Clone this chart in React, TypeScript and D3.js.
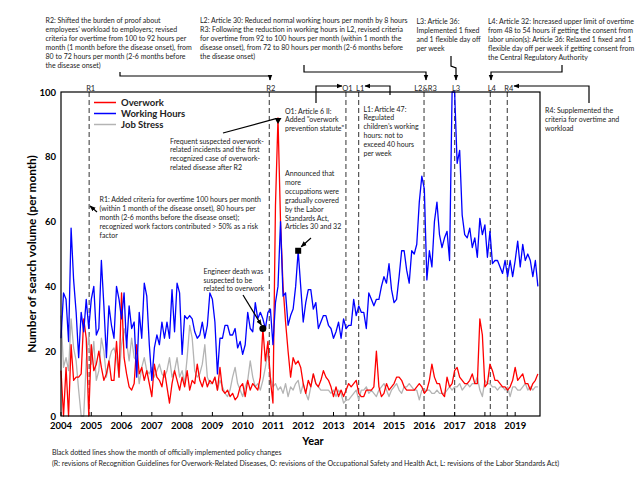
import React from "react";
import * as d3 from "d3";

// monthly search volume, Jan 2004 - Oct 2019
const START_YEAR = 2004;

const workingHours = [
  24, 38, 36, 23, 58, 42, 32, 18, 32, 26, 36, 27, // 2004
  36, 40, 25, 27, 48, 34, 18, 34, 28, 24, 40, 36, // 2005
  30, 38, 21, 34, 27, 29, 12, 32, 24, 41, 37, 22, // 2006
  11, 21, 25, 22, 29, 24, 29, 24, 39, 26, 41, 38, // 2007
  19, 31, 30, 31, 30, 26, 24, 25, 29, 24, 28, 38, // 2008
  36, 29, 13, 24, 24, 28, 28, 25, 25, 27, 21, 23, // 2009
  19, 22, 32, 27, 26, 35, 30, 32, 30, 27, 32, 33, // 2010
  22, 35, 40, 60, 37, 38, 28, 31, 33, 40, 51, 40, // 2011
  29, 35, 39, 39, 33, 35, 27, 29, 31, 31, 28, 27, // 2012
  24, 26, 29, 24, 30, 27, 28, 28, 36, 31, 34, 32, // 2013
  32, 27, 38, 36, 34, 36, 36, 40, 43, 41, 47, 39, // 2014
  35, 36, 43, 51, 51, 45, 41, 51, 50, 53, 66, 74, // 2015
  70, 42, 51, 46, 60, 66, 56, 52, 55, 57, 48, 100, // 2016
  100, 78, 82, 62, 56, 55, 58, 52, 55, 49, 61, 56, // 2017
  59, 49, 57, 47, 48, 48, 46, 44, 48, 43, 48, 43, // 2018
  48, 54, 46, 53, 48, 50, 48, 43, 48, 40, // 2019
];

const overwork = [
  14, 0, 15, 0, 22, 11, 12, 12, 13, 30, 24, 0,
  22, 14, 16, 20, 15, 11, 13, 17, 11, 11, 23, 12,
  38, 18, 13, 9, 8, 10, 22, 13, 15, 11, 14, 10,
  6, 16, 12, 11, 9, 14, 9, 4, 10, 14, 11, 8,
  12, 9, 14, 8, 11, 10, 16, 11, 9, 12, 9, 11,
  10, 12, 8, 15, 8, 7, 8, 6, 7, 5, 6, 9,
  10, 6, 11, 8, 10, 9, 8, 12, 27, 17, 23, 11,
  4, 65, 92, 60, 40, 29, 20, 12, 18, 16, 17, 15,
  10, 7, 11, 9, 13, 10, 9, 11, 14, 12, 11, 9,
  6, 9, 6, 8, 6, 8, 10, 9, 10, 11, 7, 6,
  6, 8, 8, 8, 9, 20, 9, 6, 7, 10, 8, 9,
  10, 12, 12, 11, 9, 8, 8, 8, 8, 9, 10, 9,
  7, 8, 11, 16, 12, 10, 10, 7, 6, 12, 9, 10,
  14, 15, 12, 11, 10, 10, 11, 13, 10, 10, 30, 25,
  9, 10, 16, 14, 11, 11, 10, 9, 9, 8, 9, 11,
  15, 11, 12, 13, 10, 10, 8, 10, 11, 13,
];

const jobStress = [
  31, 15, 18, 14, 30, 21, 17, 8, 0, 0, 17, 25,
  16, 23, 11, 14, 24, 20, 12, 17, 20, 21, 18, 12,
  22, 27, 23, 17, 24, 18, 17, 10, 15, 18, 14, 13,
  15, 12, 14, 16, 13, 12, 14, 18, 12, 14, 18, 12,
  14, 10, 18, 28, 24, 14, 12, 13, 16, 22, 12, 10,
  10, 12, 8, 11, 9, 7, 6, 8, 12, 15, 10, 8,
  6, 9, 11, 17, 12, 9, 10, 8, 11, 15, 20, 12,
  9, 10, 8, 9, 7, 10, 6, 9, 8, 10, 11, 7,
  10, 7, 5, 9, 13, 10, 9, 8, 8, 8, 8, 7,
  8, 6, 8, 7, 4, 5, 5, 6, 7, 8, 5, 8,
  8, 9, 7, 8, 7, 6, 8, 9, 10, 8, 6, 8,
  9, 10, 8, 7, 9, 9, 10, 9, 8, 8, 5, 8,
  8, 8, 8, 7, 7, 8, 7, 7, 7, 8, 9, 8,
  9, 9, 10, 8, 9, 10, 9, 10, 10, 12, 8, 6,
  11, 10, 10, 9, 9, 8, 9, 9, 8, 9, 6, 9,
  9, 8, 8, 9, 10, 8, 9, 8, 9, 9,
];

const yearTicks = [2004, 2005, 2006, 2007, 2008, 2009, 2010, 2011, 2012, 2013, 2014, 2015, 2016, 2017, 2018, 2019];
const valueTicks = [0, 20, 40, 60, 80, 100];

const policyNames = ["R1", "R2", "O1", "L1", "L2&R3", "L3", "L4", "R4"];
const policyDates = [2004.93, 2010.88, 2013.41, 2013.83, 2015.99, 2017.0, 2018.18, 2018.74];

const seriesNames = ["Overwork", "Working Hours", "Job Stress"];
const seriesColors = ["#ff0000", "#0000ff", "#b4b4b4"];

const FONT = "Lato, 'Open Sans', sans-serif";

const Lines = ({ x, y, lines, size = 7, dy = 8.9 }) => (
  <text x={x} y={y} fontSize={size} fill="#1a1a1a">
    {lines.map((l, i) => (
      <tspan key={i} x={x} y={y + i * dy}>
        {l}
      </tspan>
    ))}
  </text>
);

const App = () => {
  const x = d3.scaleLinear().domain([2004, 2019.82]).range([61, 540]);
  const y = d3.scaleLinear().domain([0, 100]).range([416, 92]);
  const mx = (i) => x(START_YEAR + i / 12);

  const line = d3
    .line<number>()
    .x((_, i) => mx(i))
    .y((d) => y(d));

  const series = [overwork, workingHours, jobStress];

  // markers pinned to data points
  const peakIdx = overwork.indexOf(d3.max(overwork));
  const squareIdx = 94;
  const circleIdx = 80;
  const tx = mx(peakIdx);
  const ty = y(overwork[peakIdx]);

  return (
    <div style={{ position: "absolute", left: 0, top: 0, background: "#fff" }}>
      <svg width={640} height={480} style={{ display: "block", fontFamily: FONT }}>
        <defs>
          <marker id="ah" viewBox="0 0 10 10" refX="9" refY="5" markerWidth="5" markerHeight="5" orient="auto-start-reverse">
            <path d="M0,1 L10,5 L0,9 z" fill="#000" />
          </marker>
        </defs>
        <rect width={640} height={480} fill="#fff" />

        {/* policy lines */}
        {policyDates.map((d, i) => (
          <g key={policyNames[i]}>
            <line x1={x(d)} x2={x(d)} y1={y(100)} y2={y(0)} stroke="#555" strokeWidth={1.2} strokeDasharray="5,3" />
            <text x={x(d) + 1.5} y={90.5} fontSize={7.5} textAnchor="middle" fill="#222">
              {policyNames[i]}
            </text>
          </g>
        ))}

        {/* series: gray under, then red, then blue */}
        {[2, 0, 1].map((k) => (
          <path key={k} d={line(series[k]) || ""} fill="none" stroke={seriesColors[k]} strokeWidth={1.3} strokeLinejoin="round" />
        ))}

        {/* frame */}
        <rect x={61} y={y(100)} width={540 - 61} height={y(0) - y(100)} fill="none" stroke="#000" strokeWidth={1.2} />

        {/* x ticks */}
        {yearTicks.map((t) => (
          <g key={t}>
            <line x1={x(t)} x2={x(t)} y1={y(0)} y2={y(0) - 4} stroke="#000" />
            <text x={x(t)} y={429} fontSize={9.5} fontWeight="bold" textAnchor="middle">
              {t}
            </text>
          </g>
        ))}
        {valueTicks.map((t) => (
          <text key={t} x={56} y={y(t) + 3.5} fontSize={9.5} fontWeight="bold" textAnchor="end">
            {t}
          </text>
        ))}
        <text x={313} y={445} fontSize={11} fontWeight="bold" textAnchor="middle">
          Year
        </text>
        <text transform="translate(36,254) rotate(-90)" fontSize={11.8} fontWeight="bold" textAnchor="middle">
          Number of search volume (per month)
        </text>

        {/* legend */}
        {seriesNames.map((n, i) => (
          <g key={n}>
            <line x1={94} x2={116} y1={102.5 + i * 11} y2={102.5 + i * 11} stroke={seriesColors[i]} strokeWidth={1.5} />
            <text x={121} y={106 + i * 11} fontSize={9.5} fontWeight="bold" fill="#222">
              {n}
            </text>
          </g>
        ))}

        {/* point markers */}
        <path d={`M${tx - 3.5},${ty} L${tx + 3.5},${ty} L${tx},${ty + 6} Z`} fill="#000" />
        <rect x={mx(squareIdx) - 3} y={y(workingHours[squareIdx]) - 3} width={6} height={6} fill="#000" />
        <circle cx={mx(circleIdx)} cy={y(overwork[circleIdx])} r={3.5} fill="#000" />

        {/* annotation arrows */}
        <g fill="none" stroke="#000" strokeWidth={1.2}>
          <polyline points="120,72 120,76 270,76 270,80" markerEnd="url(#ah)" />
          <polyline points="304,65 304,72 426,72 426,80" markerEnd="url(#ah)" />
          <polyline points="451,56 451,66 456,68 456,80" markerEnd="url(#ah)" />
          <polyline points="562,65 562,72 491,72 491,80" markerEnd="url(#ah)" />
          <polyline points="316,103 316,86 342,86" markerEnd="url(#ah)" />
          <polyline points="390,95 390,86 365,86" markerEnd="url(#ah)" />
          <polyline points="589,103 589,86 514,86" markerEnd="url(#ah)" />
          <line x1={223} y1={133} x2={tx - 3} y2={ty + 1} />
          <line x1={311} y1={238} x2={mx(squareIdx) + 3} y2={y(workingHours[squareIdx]) - 4} markerEnd="url(#ah)" />
          <line x1={243} y1={295} x2={mx(circleIdx) - 1.5} y2={y(overwork[circleIdx]) - 3.5} markerEnd="url(#ah)" />
          <line x1={97} y1={212} x2={90} y2={206} markerEnd="url(#ah)" />
        </g>

        {/* annotation texts */}
        <Lines
          x={45.5}
          y={23}
          lines={[
            "R2: Shifted the burden of proof about",
            "employees’ workload to employers; revised",
            "criteria for overtime from 100 to 92 hours per",
            "month (1 month before the disease onset), from",
            "80 to 72 hours per month (2-6 months before",
            "the disease onset)",
          ]}
        />
        <Lines
          x={200}
          y={23}
          lines={[
            "L2: Article 30: Reduced normal working hours per month by 8 hours",
            "R3: Following the reduction in working hours in L2, revised criteria",
            "for overtime from 92 to 100 hours per month (within 1 month the",
            "disease onset), from 72 to 80 hours per month (2-6 months before",
            "the disease onset)",
          ]}
        />
        <Lines x={416.5} y={24} lines={["L3: Article 36:", "Implemented 1 fixed", "and 1 flexible day off", "per week"]} />
        <Lines
          x={488}
          y={24}
          lines={[
            "L4: Article 32: Increased upper limit of overtime",
            "from 48 to 54 hours if getting the consent from",
            "labor union(s): Article 36: Relaxed 1 fixed and 1",
            "flexible day off per week if getting consent from",
            "the Central Regulatory Authority",
          ]}
        />
        <Lines x={285} y={113.5} lines={["O1: Article 6 II:", "Added \"overwork", "prevention statute\""]} />
        <Lines
          x={363.5}
          y={111.5}
          lines={["L1: Article 47:", "Regulated", "children’s working", "hours: not to", "exceed 40 hours", "per week"]}
        />
        <Lines x={545} y={113} lines={["R4: Supplemented the", "criteria for overtime and", "workload"]} />
        <Lines
          x={170}
          y={143.5}
          lines={[
            "Frequent suspected overwork-",
            "related incidents and the first",
            "recognized case of overwork-",
            "related disease after R2",
          ]}
        />
        <Lines
          x={285}
          y={176}
          lines={[
            "Announced that",
            "more",
            "occupations were",
            "gradually covered",
            "by the Labor",
            "Standards Act,",
            "Articles 30 and 32",
          ]}
        />
        <Lines
          x={99.5}
          y={202}
          dy={9}
          lines={[
            "R1: Added criteria for overtime 100 hours per month",
            "(within 1 month of the disease onset), 80 hours per",
            "month (2-6 months before the disease onset);",
            "recognized work factors contributed > 50% as a risk",
            "factor",
          ]}
        />
        <Lines x={203.5} y={274} dy={8.7} lines={["Engineer death was", "suspected to be", "related to overwork"]} />

        {/* footnotes */}
        <Lines
          x={52}
          y={455}
          dy={11}
          size={7}
          lines={[
            "Black dotted lines show the month of officially implemented policy changes",
            "(R: revisions of Recognition Guidelines for Overwork-Related Diseases, O: revisions of the Occupational Safety and Health Act, L: revisions of the Labor Standards Act)",
          ]}
        />
      </svg>
    </div>
  );
};

export default App;
